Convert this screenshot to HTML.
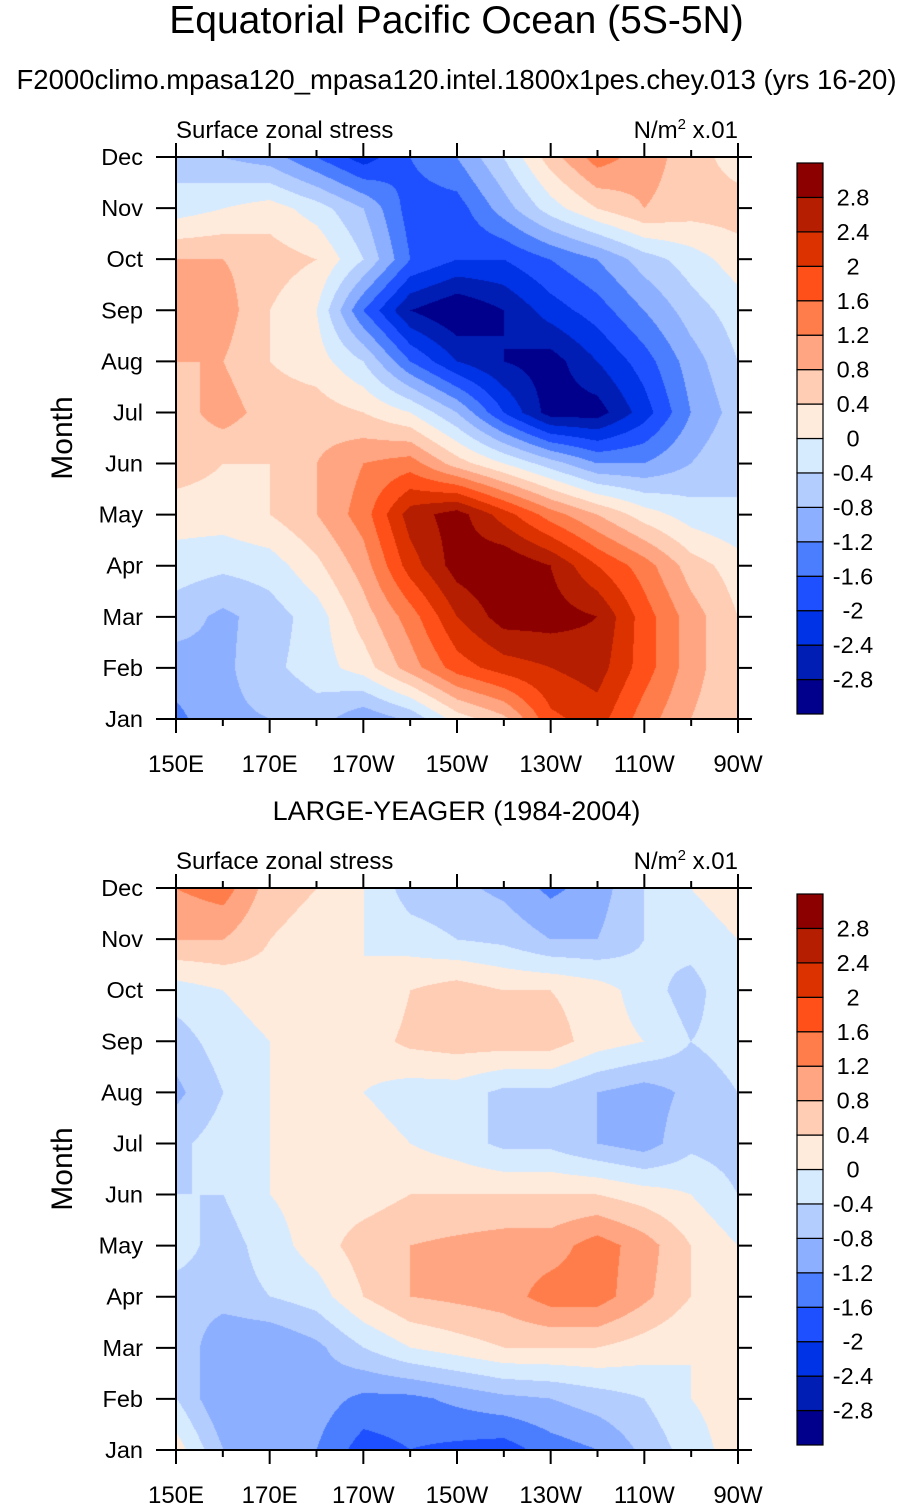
<!DOCTYPE html>
<html><head><meta charset="utf-8">
<style>
body{margin:0;background:#fff;width:913px;height:1509px;position:relative;overflow:hidden;font-family:"Liberation Sans",sans-serif;}
.t{position:absolute;white-space:nowrap;color:#000;}
canvas{position:absolute;}
svg{position:absolute;left:0;top:0;}
</style></head><body>
<div class="t" style="left:0;width:913px;text-align:center;top:-1px;font-size:39px;">Equatorial Pacific Ocean (5S-5N)</div>
<div class="t" style="left:0;width:913px;text-align:center;top:64px;font-size:27.5px;">F2000climo.mpasa120_mpasa120.intel.1800x1pes.chey.013 (yrs 16-20)</div>
<div class="t" style="left:0;width:913px;text-align:center;top:796px;font-size:27px;">LARGE-YEAGER (1984-2004)</div>
<canvas id="c1" width="562" height="562" style="left:176px;top:157px"></canvas>
<canvas id="c2" width="562" height="562" style="left:176px;top:888px"></canvas>
<svg id="ov" width="913" height="1509"></svg>
<script>
const months=["Jan","Feb","Mar","Apr","May","Jun","Jul","Aug","Sep","Oct","Nov","Dec"];
const lonLabels=["150E","170E","170W","150W","130W","110W","90W"];
const levels=[-2.8,-2.4,-2,-1.6,-1.2,-0.8,-0.4,0,0.4,0.8,1.2,1.6,2,2.4,2.8];
const levelLabels=["-2.8","-2.4","-2","-1.6","-1.2","-0.8","-0.4","0","0.4","0.8","1.2","1.6","2","2.4","2.8"];
const colors=["#00008c","#001eb4","#0032e6","#1e50ff","#4b7dff","#8cafff","#b4cdff","#d7ebff","#ffebdc","#ffcdb4","#ffa582","#ff7d4b","#ff5019","#dc3200","#b51e00","#8c0000"];
// columns: 150E,160E,170E,180,170W,160W,150W,140W,130W,120W,110W,100W,90W ; rows Jan..Dec
const modelData=[
[-1.3,-0.9,-0.8,-0.6,-1.1,-0.7,0.2,0.7,1.9,2.2,1.4,0.8,0.4],
[-1.0,-0.9,-0.5,-0.2,0.2,1.0,1.8,2.2,2.4,2.6,1.8,1.0,0.4],
[-0.6,-0.9,-0.6,-0.2,0.6,1.4,2.4,3.0,3.0,2.8,1.8,1.0,0.4],
[-0.2,-0.3,-0.2,0.3,1.0,2.2,3.0,3.2,2.8,2.0,1.4,0.6,0.2],
[0.2,0.2,0.4,0.8,1.4,2.6,3.0,2.2,1.4,0.8,0.2,-0.2,-0.4],
[0.6,0.4,0.4,0.8,1.2,1.4,0.6,0.0,-0.6,-1.2,-1.2,-0.8,-0.4],
[0.6,1.0,0.6,0.6,0.4,0.0,-0.8,-2.0,-3.0,-3.0,-2.2,-1.2,-0.6],
[0.8,0.8,0.4,0.2,-0.4,-1.6,-2.4,-2.8,-3.0,-2.4,-1.8,-1.0,-0.4],
[1.0,1.0,0.4,0.0,-1.6,-2.8,-3.2,-2.8,-2.2,-1.8,-1.2,-0.6,-0.2],
[0.8,0.8,0.6,0.4,-0.4,-1.6,-2.0,-2.0,-1.6,-1.2,-0.6,-0.2,0.2],
[-0.2,0.0,0.2,-0.2,-0.8,-1.8,-1.8,-1.0,-0.2,0.4,0.8,0.6,0.6],
[-0.6,-0.8,-1.0,-1.6,-2.2,-1.6,-1.2,-0.4,0.6,1.4,1.0,0.6,0.2]];
const obsData=[
[0.2,-0.8,-1.0,-1.2,-1.8,-1.6,-1.7,-1.8,-1.4,-1.2,-0.7,-0.2,0.2],
[-0.4,-1.2,-1.0,-1.0,-1.3,-1.3,-1.1,-0.9,-0.8,-0.6,-0.4,0.0,0.2],
[-0.4,-1.2,-1.2,-0.9,-0.4,0.0,0.2,0.4,0.4,0.4,0.2,0.0,0.2],
[-0.6,-0.6,-0.4,-0.2,0.4,0.8,0.9,1.0,1.4,1.4,0.9,0.4,0.0],
[-0.2,-0.6,-0.2,0.2,0.6,0.8,0.9,1.0,1.0,1.4,1.0,0.4,0.0],
[-0.4,-0.4,0.0,0.2,0.2,0.4,0.4,0.4,0.4,0.4,0.2,0.0,-0.4],
[-0.5,-0.2,0.0,0.2,0.2,0.0,-0.2,-0.5,-0.5,-0.8,-1.0,-0.5,-0.6],
[-0.9,-0.4,0.0,0.2,0.0,-0.2,-0.2,-0.5,-0.5,-0.8,-1.0,-0.7,-0.4],
[-0.6,-0.2,0.0,0.2,0.2,0.5,0.6,0.6,0.6,0.2,0.0,-0.4,-0.2],
[-0.2,0.0,0.2,0.0,0.0,0.4,0.6,0.4,0.4,0.2,-0.2,-0.6,0.0],
[0.8,0.8,0.4,0.2,0.0,-0.2,-0.4,-0.5,-0.8,-0.8,-0.4,-0.2,0.0],
[1.2,1.4,0.6,0.4,0.0,-0.6,-0.7,-0.9,-1.3,-1.0,-0.4,0.0,0.2]];

function colorFor(v){let i=0;while(i<levels.length&&v>=levels[i])i++;return colors[i];}
function hex(c){return [parseInt(c.substr(1,2),16),parseInt(c.substr(3,2),16),parseInt(c.substr(5,2),16)];}
function draw(id,data){
  const cv=document.getElementById(id),ctx=cv.getContext('2d');
  const W=cv.width,H=cv.height,img=ctx.createImageData(W,H);
  const nr=data.length,nc=data[0].length;
  for(let py=0;py<H;py++){
    const fy=(H-1-py)/(H-1)*(nr-1);const r0=Math.min(Math.floor(fy),nr-2),ty=fy-r0;
    for(let px=0;px<W;px++){
      const fx=px/(W-1)*(nc-1);const c0=Math.min(Math.floor(fx),nc-2),tx=fx-c0;
      const v=(data[r0][c0]*(1-tx)+data[r0][c0+1]*tx)*(1-ty)+(data[r0+1][c0]*(1-tx)+data[r0+1][c0+1]*tx)*ty;
      const rgb=hex(colorFor(v));const k=(py*W+px)*4;
      img.data[k]=rgb[0];img.data[k+1]=rgb[1];img.data[k+2]=rgb[2];img.data[k+3]=255;
    }
  }
  ctx.putImageData(img,0,0);
}
draw('c1',modelData);draw('c2',obsData);

const NS='http://www.w3.org/2000/svg';const ov=document.getElementById('ov');
function el(tag,attrs,txt){const e=document.createElementNS(NS,tag);for(const k in attrs)e.setAttribute(k,attrs[k]);if(txt!=null)e.textContent=txt;ov.appendChild(e);return e;}
const X0=176,X1=738;
function panel(top,tag){
  const bot=top+562;
  const yM=i=>bot-i*(562/11);
  const fr=el('rect',{x:X0,y:top,width:X1-X0,height:562,fill:'none',stroke:'#000','stroke-width':2});
  
  
  months.forEach((m,i)=>{
    const y=yM(i);
    el('line',{x1:X0-20,y1:y,x2:X0,y2:y,stroke:'#000','stroke-width':2});
    el('line',{x1:X1,y1:y,x2:X1+14,y2:y,stroke:'#000','stroke-width':2});
    const t=el('text',{x:143,y:y+8,'text-anchor':'end','font-size':23.5,'font-family':'Liberation Sans'},m);
    
    
  });
  lonLabels.forEach((l,i)=>{
    const x=X0+i*(562/6);
    el('line',{x1:x,y1:bot,x2:x,y2:bot+14,stroke:'#000','stroke-width':2});
    el('line',{x1:x,y1:top,x2:x,y2:top-14,stroke:'#000','stroke-width':2});
    if(i<6){const xm=x+562/12;el('line',{x1:xm,y1:bot,x2:xm,y2:bot+7,stroke:'#000','stroke-width':2});el('line',{x1:xm,y1:top,x2:xm,y2:top-7,stroke:'#000','stroke-width':2});}
    const t=el('text',{x:x,y:bot+53,'text-anchor':'middle','font-size':24,'font-family':'Liberation Sans'},l);
    
    
  });
  const yt=el('text',{x:0,y:0,'text-anchor':'middle','font-size':30,'font-family':'Liberation Sans',transform:`translate(72,${(top+bot)/2}) rotate(-90)`},'Month');
  
  
  const lt=el('text',{x:X0,y:top-19,'font-size':24,'font-family':'Liberation Sans'},'Surface zonal stress');
  
  
  const ut=el('text',{x:X1,y:top-19,'text-anchor':'end','font-size':24,'font-family':'Liberation Sans'});
  ut.innerHTML='N/m<tspan dy="-9" font-size="15">2</tspan><tspan dy="9"> x.01</tspan>';
  
  
  const cbTop=top+6,cbH=551,bh=cbH/colors.length;
  colors.forEach((c,i)=>{
    const r=el('rect',{x:797,y:cbTop+cbH-(i+1)*bh,width:26,height:bh,fill:c,stroke:'#000','stroke-width':1.2});
    
    
  });
  levelLabels.forEach((l,i)=>{
    const y=cbTop+cbH-(i+1)*bh;
    const t=el('text',{x:853,y:y+8,'text-anchor':'middle','font-size':23.5,'font-family':'Liberation Sans'},l);
    
    
  });
}
panel(157,'model');panel(888,'obs');
</script>
</body></html>
